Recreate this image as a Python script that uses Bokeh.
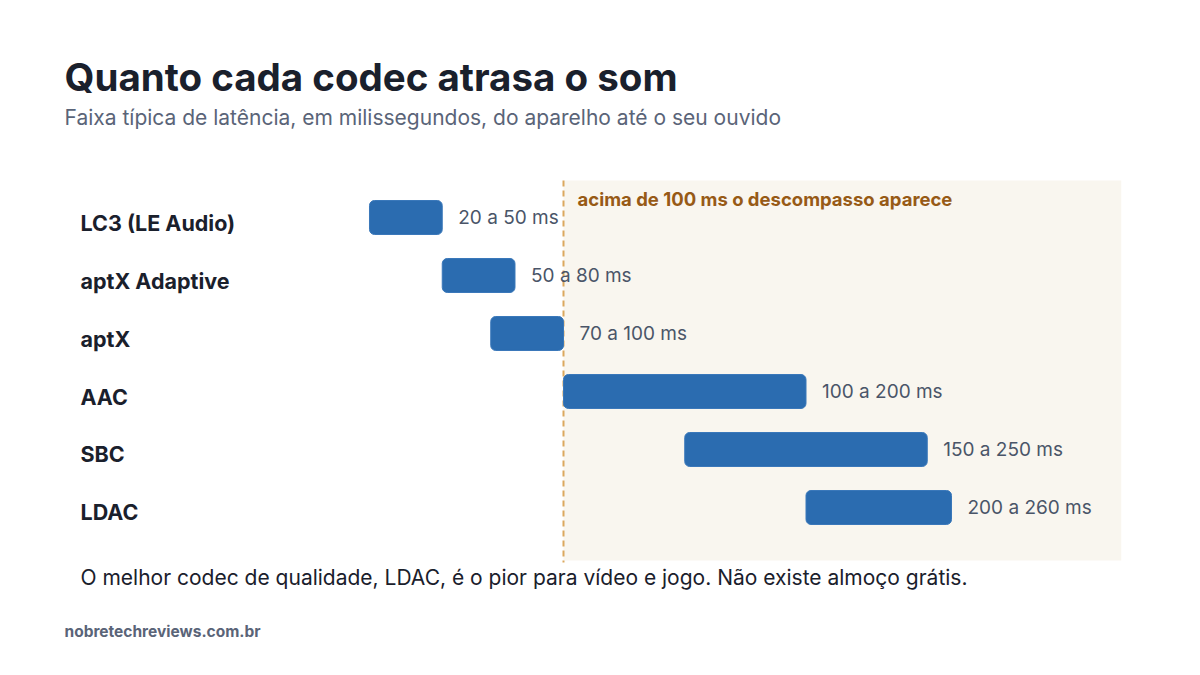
from bokeh.core.properties import value
from bokeh.embed import file_html
from bokeh.models import BoxAnnotation, ColumnDataSource, Label, Range1d
from bokeh.plotting import figure
from bokeh.resources import INLINE

CODECS = ["LC3 (LE Audio)", "aptX Adaptive", "aptX", "AAC", "SBC", "LDAC"]
LOW_MS = [20, 50, 70, 100, 150, 200]
HIGH_MS = [50, 80, 100, 200, 250, 260]
THRESHOLD_MS = 100
ZONE_END_MS = 330

TITLE = "Quanto cada codec atrasa o som"
SUBTITLE = "Faixa típica de latência, em milissegundos, do aparelho até o seu ouvido"
ZONE_NOTE = "acima de 100 ms o descompasso aparece"
FOOTNOTE = "O melhor codec de qualidade, LDAC, é o pior para vídeo e jogo. Não existe almoço grátis."
SOURCE = "nobretechreviews.com.br"

FONT = "Inter"
W, H = 1184, 659

rows = list(range(len(CODECS)))
src = ColumnDataSource(dict(
    row=rows,
    codec=CODECS,
    low=LOW_MS,
    high=HIGH_MS,
    label=[f"{lo} a {hi} ms" for lo, hi in zip(LOW_MS, HIGH_MS)],
))

x_start = -132.16
p = figure(
    width=W,
    height=H,
    x_range=Range1d(x_start, 356.08),
    y_range=Range1d(7.6207, -3.7414),
    output_backend="svg",
    toolbar_location=None,
    min_border=0,
)
p.axis.visible = False
p.grid.visible = False
p.outline_line_color = None
p.background_fill_color = "white"
p.border_fill_color = "white"

# zone above the threshold
p.add_layout(BoxAnnotation(left=THRESHOLD_MS, right=ZONE_END_MS, top=-0.638, bottom=5.914,
                           fill_color="#f9f6ef", fill_alpha=1, line_color=None, level="underlay"))
p.segment(x0=[THRESHOLD_MS], y0=[-0.638], x1=[THRESHOLD_MS], y1=[5.95],
          line_color="#dba85e", line_width=2, line_dash="6 4")

p.hbar(y="row", left="low", right="high", height=0.586, source=src,
       fill_color="#2b6cb0", line_color="#3a78ba", line_width=1, border_radius=5)

p.text(x="high", y="row", text="label", source=src, x_offset=16,
       text_font=value(FONT), text_font_size="19px", text_color="#4a5568",
       text_baseline="middle", text_align="left")

p.text(x=x_start, y="row", text="codec", source=src, x_offset=80, y_offset=5,
       text_font=value(FONT), text_font_size="21.5px", text_font_style="bold",
       text_color="#1a202c", text_baseline="middle", text_align="left")

p.add_layout(Label(x=64, y=583, x_units="screen", y_units="screen", text=TITLE,
                   text_font=FONT, text_font_size="38.5px", text_font_style="bold",
                   text_color="#1a202c", text_baseline="middle"))
p.add_layout(Label(x=64, y=542, x_units="screen", y_units="screen", text=SUBTITLE,
                   text_font=FONT, text_font_size="21px", text_color="#5a6478",
                   text_baseline="middle"))
p.add_layout(Label(x=577, y=461, x_units="screen", y_units="screen", text=ZONE_NOTE,
                   text_font=FONT, text_font_size="18.5px", text_font_style="bold",
                   text_color="#975a16", text_baseline="middle"))
p.add_layout(Label(x=80, y=82, x_units="screen", y_units="screen", text=FOOTNOTE,
                   text_font=FONT, text_font_size="21px", text_color="#1a202c",
                   text_baseline="middle"))
p.add_layout(Label(x=64, y=28, x_units="screen", y_units="screen", text=SOURCE,
                   text_font=FONT, text_font_size="15.5px", text_font_style="bold",
                   text_color="#5a6478", text_baseline="middle"))

open("out.html", "w").write(file_html(p, INLINE))
